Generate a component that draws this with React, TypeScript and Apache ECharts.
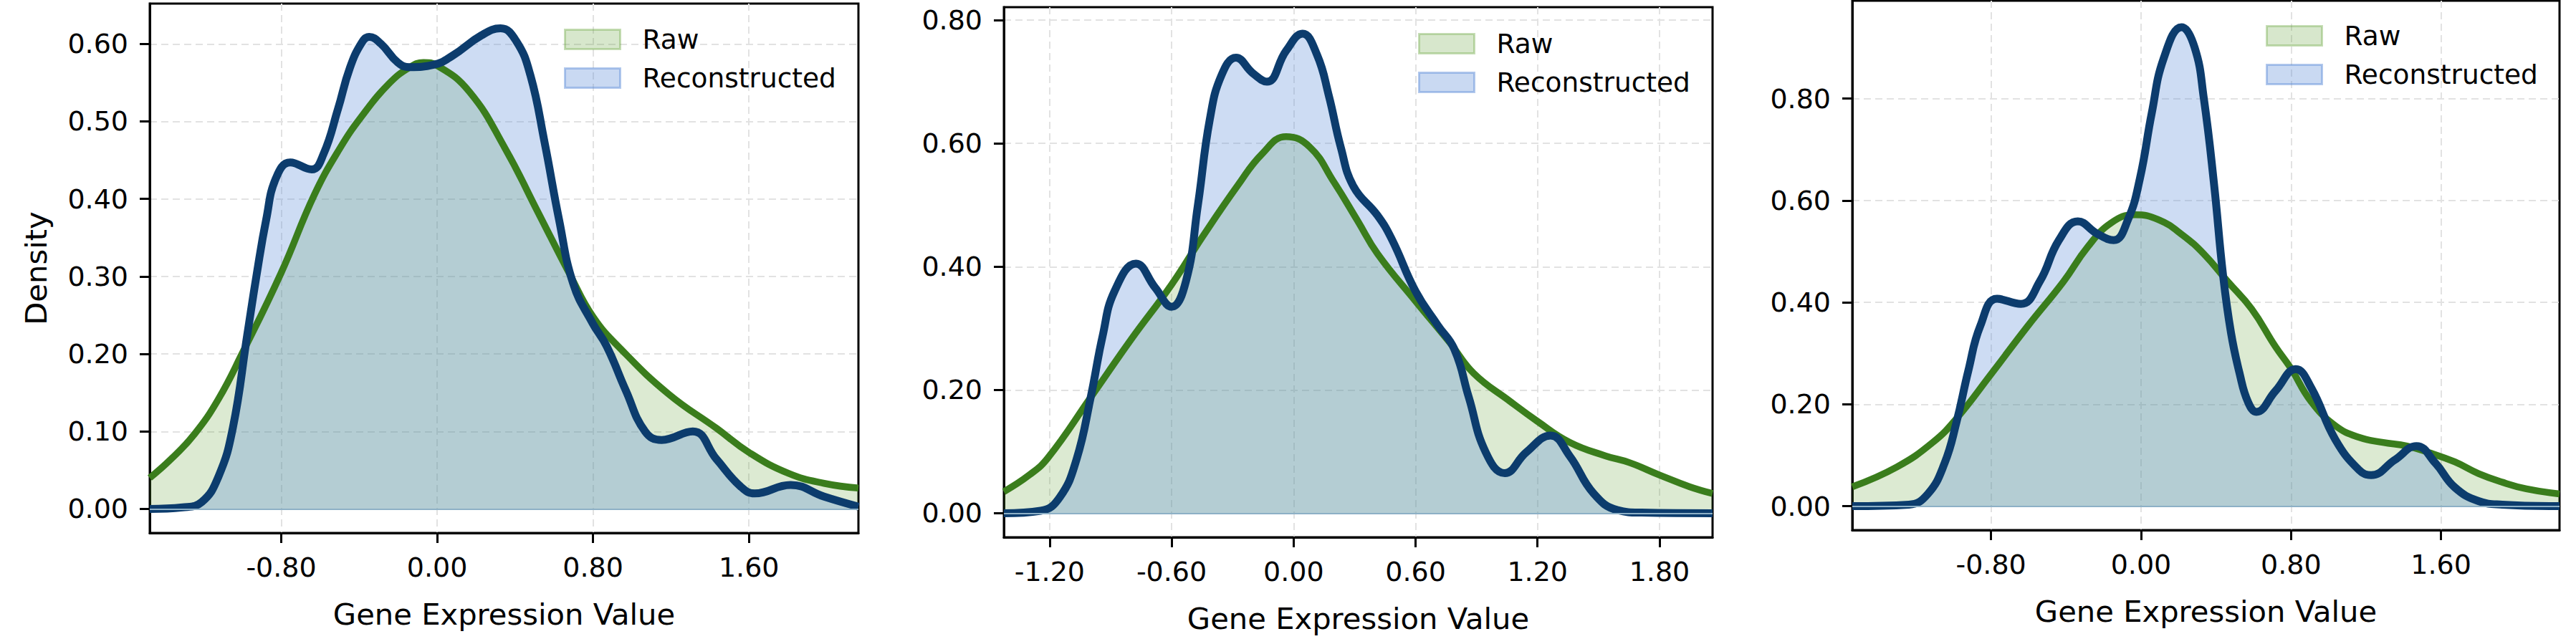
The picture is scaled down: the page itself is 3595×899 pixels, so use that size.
import { useEffect, useRef } from 'react';
import * as echarts from 'echarts';

// ---------------- data ----------------
const p1Raw: [number, number][] = [
  [-1.475, 0.040], [-1.367, 0.064], [-1.244, 0.097], [-1.122, 0.142], [-1.0, 0.201],
  [-0.8, 0.305], [-0.631, 0.405], [-0.5, 0.465], [-0.386, 0.507], [-0.25, 0.548],
  [-0.14, 0.570], [-0.07, 0.576], [0.0, 0.572], [0.166, 0.538], [0.349, 0.465],
  [0.515, 0.384], [0.68, 0.303], [0.8, 0.248], [0.944, 0.206], [1.189, 0.148],
  [1.434, 0.104], [1.6, 0.073], [1.802, 0.046], [1.986, 0.033], [2.162, 0.027],
];
const p1Recon: [number, number][] = [
  [-1.475, 0.0], [-1.306, 0.002], [-1.208, 0.009], [-1.122, 0.042], [-1.049, 0.104],
  [-0.975, 0.224], [-0.926, 0.303], [-0.877, 0.374], [-0.827, 0.427], [-0.754, 0.447],
  [-0.644, 0.438], [-0.583, 0.458], [-0.509, 0.516], [-0.448, 0.569], [-0.386, 0.602],
  [-0.349, 0.609], [-0.288, 0.600], [-0.202, 0.576], [-0.141, 0.570], [-0.018, 0.573],
  [0.080, 0.585], [0.227, 0.611], [0.325, 0.620], [0.405, 0.604], [0.478, 0.560],
  [0.552, 0.472], [0.625, 0.374], [0.699, 0.290], [0.797, 0.240], [0.870, 0.210],
  [0.968, 0.153], [1.067, 0.100], [1.152, 0.089], [1.312, 0.100], [1.434, 0.064],
  [1.557, 0.029], [1.630, 0.020], [1.814, 0.031], [1.986, 0.016], [2.162, 0.003],
];
const p2Raw: [number, number][] = [
  [-1.425, 0.035], [-1.30, 0.062], [-1.208, 0.090], [-0.998, 0.188], [-0.799, 0.282],
  [-0.6, 0.371], [-0.447, 0.449], [-0.272, 0.533], [-0.155, 0.583], [-0.037, 0.611],
  [0.080, 0.594], [0.197, 0.538], [0.314, 0.475], [0.413, 0.421], [0.6, 0.344],
  [0.768, 0.277], [0.886, 0.227], [1.063, 0.182], [1.2, 0.149], [1.358, 0.115],
  [1.535, 0.093], [1.653, 0.082], [1.8, 0.062], [1.948, 0.043], [2.061, 0.032],
];
const p2Recon: [number, number][] = [
  [-1.425, 0.0], [-1.244, 0.004], [-1.150, 0.026], [-1.068, 0.087], [-0.998, 0.188],
  [-0.939, 0.288], [-0.881, 0.360], [-0.775, 0.405], [-0.681, 0.366], [-0.600, 0.335],
  [-0.529, 0.377], [-0.471, 0.499], [-0.412, 0.639], [-0.354, 0.711], [-0.283, 0.739],
  [-0.201, 0.714], [-0.131, 0.700], [-0.037, 0.750], [0.044, 0.778], [0.115, 0.744],
  [0.173, 0.678], [0.232, 0.594], [0.295, 0.530], [0.413, 0.483], [0.484, 0.444],
  [0.6, 0.360], [0.709, 0.305], [0.791, 0.266], [0.862, 0.188], [0.945, 0.099],
  [1.039, 0.065], [1.145, 0.099], [1.264, 0.126], [1.358, 0.093], [1.476, 0.032],
  [1.594, 0.005], [1.712, 0.001], [2.061, 0.0],
];
const p3Raw: [number, number][] = [
  [-1.540, 0.038], [-1.302, 0.077], [-1.111, 0.125], [-0.984, 0.172], [-0.8, 0.259],
  [-0.603, 0.354], [-0.413, 0.441], [-0.286, 0.508], [-0.159, 0.556], [-0.032, 0.572],
  [0.095, 0.562], [0.222, 0.532], [0.335, 0.495], [0.462, 0.441], [0.590, 0.387],
  [0.717, 0.313], [0.8, 0.270], [0.908, 0.205], [1.036, 0.158], [1.163, 0.135],
  [1.291, 0.125], [1.418, 0.118], [1.545, 0.104], [1.673, 0.087], [1.800, 0.064],
  [1.927, 0.047], [2.055, 0.034], [2.232, 0.024],
];
const p3Recon: [number, number][] = [
  [-1.540, 0.0], [-1.238, 0.003], [-1.137, 0.024], [-1.048, 0.084], [-0.984, 0.165],
  [-0.921, 0.266], [-0.857, 0.354], [-0.768, 0.407], [-0.641, 0.397], [-0.540, 0.441],
  [-0.438, 0.522], [-0.337, 0.559], [-0.235, 0.535], [-0.146, 0.522], [-0.070, 0.562],
  [-0.006, 0.643], [0.057, 0.771], [0.121, 0.879], [0.216, 0.940], [0.286, 0.900],
  [0.335, 0.800], [0.390, 0.630], [0.437, 0.455], [0.480, 0.340], [0.526, 0.260],
  [0.570, 0.205], [0.615, 0.185], [0.717, 0.226], [0.825, 0.269], [0.908, 0.232],
  [1.036, 0.131], [1.163, 0.071], [1.227, 0.061], [1.354, 0.091], [1.469, 0.118],
  [1.571, 0.084], [1.673, 0.037], [1.800, 0.010], [1.927, 0.003], [2.232, 0.0],
];

const p1XTicks = [-0.8, 0, 0.8, 1.6];
const p1YTicks = [0, 0.1, 0.2, 0.3, 0.4, 0.5, 0.6];
const p2XTicks = [-1.2, -0.6, 0, 0.6, 1.2, 1.8];
const p2YTicks = [0, 0.2, 0.4, 0.6, 0.8];
const p3XTicks = [-0.8, 0, 0.8, 1.6];
const p3YTicks = [0, 0.2, 0.4, 0.6, 0.8];

const p1XRange = [-1.475, 2.162];
const p1YRange = [-0.031, 0.652];
const p2XRange = [-1.425, 2.061];
const p2YRange = [-0.039, 0.821];
const p3XRange = [-1.540, 2.232];
const p3YRange = [-0.047, 0.992];

const seriesNames = ['Raw', 'Reconstructed'];
const xTitle = 'Gene Expression Value';
const yTitle = 'Density';

// ---------------- styles ----------------
const FONT = 'DejaVu Sans';
const GREEN_LINE = '#3a7d1c';
const NAVY_LINE = '#0c3c6d';
const GREEN_FILL = 'rgba(95,160,50,0.22)';
const BLUE_FILL = 'rgba(88,138,215,0.30)';

const panels = [
  { raw: p1Raw, recon: p1Recon, xr: p1XRange, yr: p1YRange, xt: p1XTicks, yt: p1YTicks,
    grid: { left: 209, top: 5, width: 989, height: 739 }, legend: { left: 787, top: 41 }, yName: yTitle },
  { raw: p2Raw, recon: p2Recon, xr: p2XRange, yr: p2YRange, xt: p2XTicks, yt: p2YTicks,
    grid: { left: 1401, top: 10, width: 989, height: 740 }, legend: { left: 1979, top: 47 }, yName: '' },
  { raw: p3Raw, recon: p3Recon, xr: p3XRange, yr: p3YRange, xt: p3XTicks, yt: p3YTicks,
    grid: { left: 2585, top: 1, width: 987, height: 739 }, legend: { left: 3162, top: 36 }, yName: '' },
];

function buildOption() {
  const grid = panels.map((p) => ({
    ...p.grid,
    show: true,
    borderColor: '#000',
    borderWidth: 3,
    backgroundColor: 'transparent',
    containLabel: false,
  }));

  const split = { show: true, lineStyle: { color: '#e2e2e2', width: 2, type: [10, 6] as any } };

  const xAxis = panels.map((p, i) => ({
    type: 'value',
    gridIndex: i,
    min: p.xr[0],
    max: p.xr[1],
    axisLine: { show: true, onZero: false, lineStyle: { color: '#000', width: 3 } },
    axisTick: { show: true, customValues: p.xt, length: 14, lineStyle: { color: '#000', width: 3 } },
    axisLabel: {
      customValues: p.xt,
      formatter: (v: number) => v.toFixed(2),
      fontSize: 38, color: '#000', fontFamily: FONT, margin: 29,
    },
    splitLine: split,
    name: xTitle,
    nameLocation: 'middle',
    nameGap: 92,
    nameTextStyle: { fontSize: 41.7, color: '#000', fontFamily: FONT },
  }));

  const yAxis = panels.map((p, i) => ({
    type: 'value',
    gridIndex: i,
    min: p.yr[0],
    max: p.yr[1],
    axisLine: { show: true, onZero: false, lineStyle: { color: '#000', width: 3 } },
    axisTick: { show: true, customValues: p.yt, length: 14, lineStyle: { color: '#000', width: 3 } },
    axisLabel: {
      customValues: p.yt,
      formatter: (v: number) => v.toFixed(2),
      fontSize: 38, color: '#000', fontFamily: FONT, margin: 30,
    },
    splitLine: split,
    name: p.yName,
    nameLocation: 'middle',
    nameGap: 138,
    nameTextStyle: { fontSize: 41.7, color: '#000', fontFamily: FONT },
  }));

  const common = { type: 'line', smooth: 0.45, symbol: 'none', silent: true, animation: false };
  const series: any[] = [];
  panels.forEach((p, i) => {
    series.push({
      ...common, name: seriesNames[0], xAxisIndex: i, yAxisIndex: i, data: p.raw, z: 2,
      lineStyle: { width: 0, opacity: 0 }, areaStyle: { color: GREEN_FILL, opacity: 1 },
    });
    series.push({
      ...common, name: seriesNames[1], xAxisIndex: i, yAxisIndex: i, data: p.recon, z: 2,
      lineStyle: { width: 0, opacity: 0 }, areaStyle: { color: BLUE_FILL, opacity: 1 },
      markLine: {
        silent: true, symbol: ['none', 'none'], label: { show: false },
        lineStyle: { color: '#8db0c6', width: 2, type: 'solid' },
        data: [{ yAxis: 0 }],
      },
    });
    series.push({
      ...common, name: seriesNames[0] + ' line', xAxisIndex: i, yAxisIndex: i, data: p.raw, z: 3,
      lineStyle: { color: GREEN_LINE, width: 9.5 },
    });
    series.push({
      ...common, name: seriesNames[1] + ' line', xAxisIndex: i, yAxisIndex: i, data: p.recon, z: 4,
      lineStyle: { color: NAVY_LINE, width: 11 },
    });
  });

  const legend = panels.map((p) => ({
    left: p.legend.left,
    top: p.legend.top - 5,
    orient: 'vertical',
    padding: 0,
    itemWidth: 77,
    itemHeight: 27,
    itemGap: 16,
    icon: 'rect',
    selectedMode: false,
    textStyle: { fontSize: 37.5, color: '#000', fontFamily: FONT, padding: [0, 0, 0, 26] },
    data: [
      { name: seriesNames[0], itemStyle: { color: 'rgba(95,160,50,0.25)', borderColor: 'rgba(95,160,50,0.35)', borderWidth: 3 } },
      { name: seriesNames[1], itemStyle: { color: 'rgba(88,138,215,0.32)', borderColor: 'rgba(88,138,215,0.45)', borderWidth: 3 } },
    ],
  }));

  return {
    animation: false,
    backgroundColor: '#fff',
    textStyle: { fontFamily: FONT },
    grid,
    xAxis,
    yAxis,
    legend,
    series,
  };
}

export default function App() {
  const ref = useRef<HTMLDivElement>(null);
  useEffect(() => {
    document.body.style.margin = '0';
    const chart = echarts.init(ref.current!, null, { renderer: 'svg' });
    chart.setOption(buildOption() as any);
    return () => chart.dispose();
  }, []);
  return (
    <div
      ref={ref}
      style={{ position: 'absolute', left: 0, top: 0, width: 3595, height: 899 }}
    />
  );
}
